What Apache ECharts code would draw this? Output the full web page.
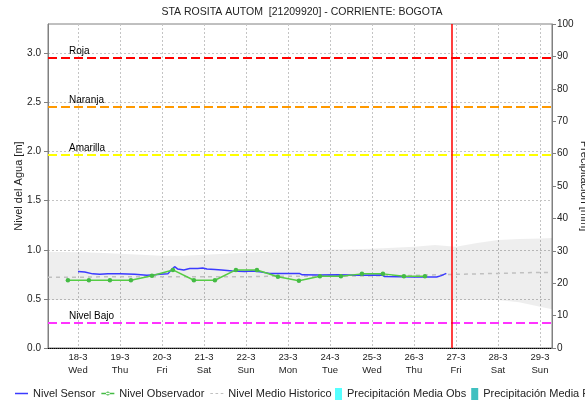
<!DOCTYPE html>
<html>
<head>
<meta charset="utf-8">
<script src="https://cdn.jsdelivr.net/npm/echarts@6/dist/echarts.min.js"></script>
<style>
html,body{margin:0;padding:0;background:#fff;}
#chart{width:585px;height:405px;}
</style>
</head>
<body>
<div id="chart"></div>
<script>
// ---- data ----
const dates = ['18-3','19-3','20-3','21-3','22-3','23-3','24-3','25-3','26-3','27-3','28-3','29-3'];
const weekdays = ['Wed','Thu','Fri','Sat','Sun','Mon','Tue','Wed','Thu','Fri','Sat','Sun'];
const tickDays = [0,1,2,3,4,5,6,7,8,9,10,11];
const levelTicks = [0,0.5,1.0,1.5,2.0,2.5,3.0];

const sensorDays   = [0.00,0.16,0.35,0.52,0.71,1.00,1.35,1.64,1.83,1.95,2.14,2.23,2.30,2.37,2.52,2.66,2.85,2.97,3.07,3.26,3.42,3.68,3.97,4.14,4.33,4.56,5.27,5.34,5.75,6.20,6.70,7.25,7.30,8.00,8.54,8.65,8.77];
const sensorLevels = [0.78,0.775,0.755,0.75,0.755,0.755,0.75,0.74,0.745,0.75,0.755,0.80,0.828,0.805,0.795,0.81,0.81,0.815,0.805,0.80,0.795,0.785,0.78,0.785,0.777,0.76,0.76,0.745,0.743,0.745,0.742,0.743,0.727,0.723,0.723,0.737,0.76];

const obsDays   = [-0.24,0.26,0.76,1.26,1.76,2.26,2.76,3.26,3.76,4.26,4.76,5.26,5.76,6.26,6.76,7.26,7.76,8.26];
const obsLevels = [0.69,0.69,0.69,0.69,0.735,0.795,0.69,0.69,0.795,0.795,0.725,0.685,0.73,0.73,0.755,0.755,0.73,0.73];

const histDays = [-0.714,0,0.5,1,1.5,2,2.5,3,3.5,4,4.5,5,6,7,7.5,8,8.5,9,9.5,10,10.5,11,11.286];
const histMax  = [0.98,0.975,0.97,0.96,0.95,0.94,0.94,0.95,0.96,0.97,0.98,0.99,1.0,1.01,1.02,1.03,1.05,1.03,1.07,1.10,1.11,1.115,1.12];
const histMin  = [0.49,0.49,0.49,0.49,0.49,0.49,0.49,0.49,0.49,0.49,0.49,0.49,0.49,0.49,0.49,0.49,0.49,0.49,0.49,0.49,0.465,0.42,0.395];
const histMean = [0.72,0.72,0.725,0.725,0.725,0.725,0.725,0.725,0.725,0.725,0.73,0.73,0.73,0.735,0.735,0.74,0.745,0.75,0.755,0.76,0.765,0.77,0.77];

const precipObs = [];
const precipPro = [];

const thresholdNames  = ['Roja','Naranja','Amarilla','Nivel Bajo'];
const thresholdValues = [2.96,2.46,1.965,0.26];
const thresholdColors = ['#ff0000','#ff9900','#ffff00','#ff33ff'];
const nowDay = 8.9;

// ---- chart ----
const FONT = 'Liberation Sans, Arial, sans-serif';
const zip = (a,b) => a.map((v,i)=>[v,b[i]]);
const chart = echarts.init(document.getElementById('chart'), null, {renderer:'canvas'});

const option = {
  animation:false,
  backgroundColor:'#ffffff',
  textStyle:{fontFamily:FONT},
  title:{
    text:'STA ROSITA AUTOM  [21209920] - CORRIENTE: BOGOTA',
    left:302, top:7, padding:0, textAlign:'center',
    textStyle:{fontSize:10.5,fontWeight:'normal',color:'#222',fontFamily:FONT}
  },
  legend:[{
    data:[
      {name:'Nivel Sensor', icon:'path://M0,4.25h13v1.5h-13z'},
      {name:'Nivel Observador', icon:'path://M0,4.25h13v1.5h-13z M4.5,5a2,2 0 1,0 4,0a2,2 0 1,0 -4,0z'},
      {name:'Nivel Medio Historico', icon:'path://M0,4.4h2.6v1.2h-2.6z M5.2,4.4h2.6v1.2h-2.6z M10.4,4.4h2.6v1.2h-2.6z'}
    ],
    left:15, top:388, width:1000, padding:0,
    itemWidth:13, itemHeight:10, itemGap:6,
    textStyle:{fontSize:11,color:'#222',fontFamily:FONT}
  },{
    data:['Precipitación Media Obs','Precipitación Media Pronóstico'],
    left:335, top:388, width:1000, padding:0,
    icon:'rect', itemWidth:7, itemHeight:12, itemGap:5,
    textStyle:{fontSize:11,color:'#222',fontFamily:FONT}
  }],
  grid:{left:48,right:33,top:24,bottom:57,outerBoundsMode:'none',containLabel:false,
    show:true,borderColor:'#808080',borderWidth:1,backgroundColor:'transparent'},
  xAxis:{
    type:'value', min:-0.714, max:11.286,
    axisLine:{show:true,onZero:false,lineStyle:{color:'#000',type:[1,1],width:1}},
    axisTick:{show:false,customValues:tickDays},
    axisLabel:{
      customValues:tickDays, margin:3, fontSize:9.5, lineHeight:13, color:'#222', fontFamily:FONT,
      formatter:function(v){const i=Math.round(v);return dates[i]+'\n'+weekdays[i];}
    },
    splitLine:{show:true,lineStyle:{color:'#c4c4c4',type:[2,2],width:1}}
  },
  yAxis:[{
    type:'value', min:0, max:3.3,
    name:'Nivel del Agua [m]', nameLocation:'middle', nameGap:24, nameRotate:90, nameMoveOverlap:false,
    nameTextStyle:{fontSize:11,color:'#222',fontFamily:FONT},
    axisLine:{show:true,onZero:false,lineStyle:{color:'#808080'}},
    axisTick:{show:true,length:4,customValues:levelTicks,lineStyle:{color:'#808080'}},
    axisLabel:{customValues:levelTicks,margin:7,fontSize:10,color:'#222',fontFamily:FONT,
      formatter:function(v){return v.toFixed(1);}},
    splitLine:{show:true,lineStyle:{color:'#c4c4c4',type:[2,2],width:1}}
  },{
    type:'value', min:0, max:100, interval:10, position:'right',
    name:'Precipitación [mm]', nameLocation:'middle', nameGap:27, nameRotate:-90, nameMoveOverlap:false,
    nameTextStyle:{fontSize:11,color:'#222',fontFamily:FONT},
    axisLine:{show:true,onZero:false,lineStyle:{color:'#808080'}},
    axisTick:{show:true,length:4,lineStyle:{color:'#808080'}},
    axisLabel:{margin:5,fontSize:10,color:'#222',fontFamily:FONT},
    splitLine:{show:false}
  }],
  series:[
    {
      name:'histBand', type:'custom', silent:true, z:1,
      data:histDays.map((d,i)=>[d,histMin[i],histMax[i]]),
      encode:{x:0,y:[1,2]},
      renderItem:function(params, api){
        if (params.dataIndex !== 0) return null;
        const pts = [];
        for (let i=0;i<histDays.length;i++) pts.push(api.coord([histDays[i],histMax[i]]));
        for (let i=histDays.length-1;i>=0;i--) pts.push(api.coord([histDays[i],histMin[i]]));
        return {type:'polygon', shape:{points:pts}, style:{fill:'rgba(0,0,0,0.065)'}};
      }
    },
    {
      name:'Nivel Medio Historico', type:'line', data:zip(histDays,histMean),
      showSymbol:false, symbol:'none', color:'#c0c0c0',
      lineStyle:{color:'#c0c0c0',type:[4,4],width:1.5},
      markLine:{
        silent:true, symbol:'none', animation:false,
        data: thresholdValues.map((v,i)=>({
          yAxis:v, name:thresholdNames[i],
          lineStyle:{color:thresholdColors[i],type:[9,4],width:2},
          label:{show:true,formatter:thresholdNames[i],position:'insideStartTop',distance:[21,1],
            color:'#000',fontSize:10,fontFamily:FONT}
        })).concat([{
          xAxis:nowDay,
          lineStyle:{color:'#ff0000',type:'solid',width:1.5},
          label:{show:false}
        }])
      }
    },
    {
      name:'Precipitación Media Obs', type:'bar', yAxisIndex:1, data:precipObs, color:'#55ffff'
    },
    {
      name:'Precipitación Media Pronóstico', type:'bar', yAxisIndex:1, data:precipPro, color:'#40c0c0'
    },
    {
      name:'Nivel Sensor', type:'line', data:zip(sensorDays,sensorLevels),
      showSymbol:false, symbol:'none', color:'#3b3bff',
      lineStyle:{color:'#3b3bff',width:1.5}
    },
    {
      name:'Nivel Observador', type:'line', data:zip(obsDays,obsLevels),
      symbol:'circle', symbolSize:4.5, showSymbol:true, color:'#44bb44',
      lineStyle:{color:'#55cc44',width:1.5},
      itemStyle:{color:'#44bb44'}
    }
  ]
};
chart.setOption(option);
</script>
</body>
</html>
